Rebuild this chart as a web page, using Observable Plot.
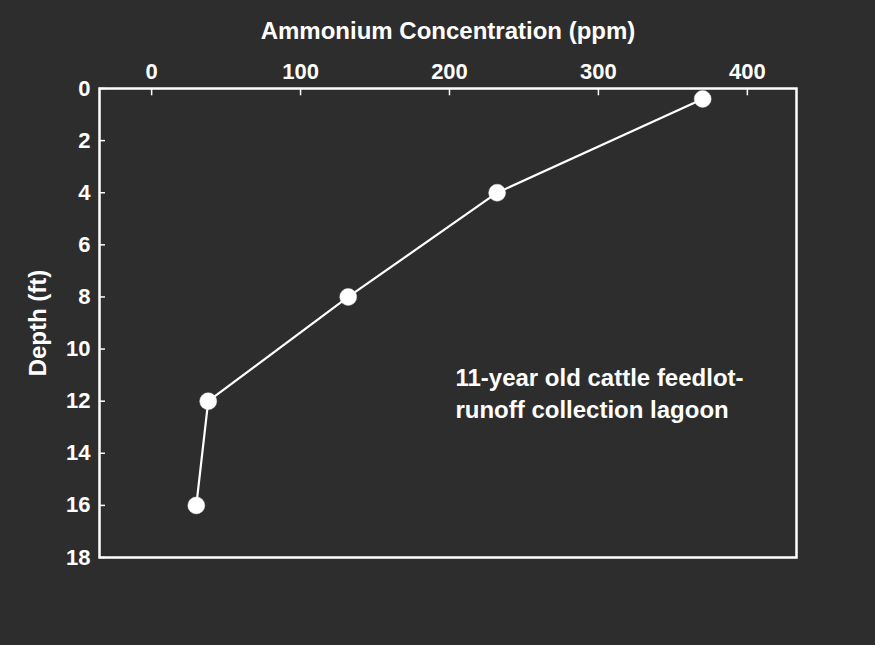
<!DOCTYPE html>
<html>
<head>
<meta charset="utf-8">
<script src="https://cdn.jsdelivr.net/npm/d3@7"></script>
<script src="https://cdn.jsdelivr.net/npm/@observablehq/plot@0.6"></script>
<style>
  html, body { margin: 0; padding: 0; background: #2d2d2d; }
  #chart svg { display: block; }
</style>
</head>
<body>
<div id="chart"></div>
<script>
// Data
const concentration = [370, 232, 132, 38, 30];   // ppm
const depth = [0.4, 4, 8, 12, 16];                // ft
const xTicks = [0, 100, 200, 300, 400];
const yTicks = [0, 2, 4, 6, 8, 10, 12, 14, 16, 18];
const xTitle = "Ammonium Concentration (ppm)";
const yTitle = "Depth (ft)";
const note = "11-year old cattle feedlot-\nrunoff collection lagoon";
const noteAt = {x: 204, y: 11.65};

const data = concentration.map((c, i) => ({c, d: depth[i]}));
const font = "'Liberation Sans', Arial, sans-serif";

const chart = Plot.plot({
  width: 875,
  height: 645,
  marginLeft: 99,
  marginRight: 79,
  marginTop: 88,
  marginBottom: 88,
  style: {background: "#2d2d2d", color: "white", fontFamily: font},
  x: {domain: [-35, 433], ticks: xTicks},
  y: {domain: [0, 18], reverse: true, ticks: yTicks},
  marks: [
    Plot.axisX(xTicks, {anchor: "top", tickSize: 0, tickPadding: 10, label: null,
      fontSize: 22, fontWeight: "bold", fill: "white"}),
    Plot.axisY(yTicks, {anchor: "left", tickSize: 0, tickPadding: 9, label: null,
      fontSize: 22, fontWeight: "bold", fill: "white"}),
    Plot.ruleX(xTicks, {x: d => d, y1: 0, y2: 0.28, stroke: "white", strokeWidth: 1.5}),
    Plot.ruleY(yTicks, {y: d => d, x1: -35, x2: -31, stroke: "white", strokeWidth: 1.5}),
    Plot.frame({stroke: "white", strokeWidth: 2.5}),
    Plot.line(data, {x: "c", y: "d", stroke: "white", strokeWidth: 2.2}),
    Plot.dot(data, {x: "c", y: "d", r: 8.5, fill: "white", stroke: "#ddd", strokeWidth: 0.5}),
    Plot.text([xTitle], {frameAnchor: "top", dy: -57, textAnchor: "middle", lineAnchor: "middle",
      fontSize: 24, fontWeight: "bold", fill: "white"}),
    Plot.text([yTitle], {frameAnchor: "left", dx: -61, rotate: -90, textAnchor: "middle", lineAnchor: "middle",
      fontSize: 24, fontWeight: "bold", fill: "white"}),
    Plot.text([note], {x: () => noteAt.x, y: () => noteAt.y, textAnchor: "start", lineAnchor: "middle",
      lineHeight: 1.3, fontSize: 24, fontWeight: "bold", fill: "white"})
  ]
});
document.getElementById("chart").append(chart);
</script>
</body>
</html>
